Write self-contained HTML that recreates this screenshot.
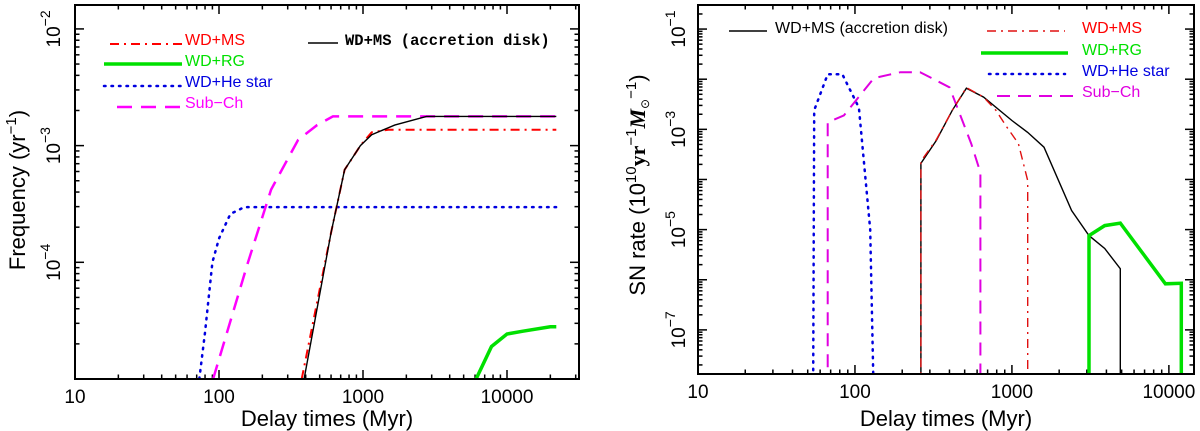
<!DOCTYPE html>
<html><head><meta charset="utf-8"><style>
html,body{margin:0;padding:0;background:#fff;width:1200px;height:431px;overflow:hidden}
svg{display:block;font-family:"Liberation Sans",sans-serif}
</style></head><body>
<svg id="c" width="1200" height="431" viewBox="0 0 1200 431" xmlns="http://www.w3.org/2000/svg"></svg>
<script>
// ---- Left panel data (Frequency yr^-1 vs Delay time Myr) ----
const leftHeT = [73, 80, 90, 100, 120, 150, 22000];
const leftHeV = [1e-5, 2.5e-5, 1e-4, 1.6e-4, 2.6e-4, 2.97e-4, 2.97e-4];
const leftSubT = [91, 159, 230, 354, 480, 618, 22000];
const leftSubV = [1e-5, 1e-4, 4.2e-4, 1.12e-3, 1.5e-3, 1.78e-3, 1.78e-3];
const leftDiskT = [390, 600, 745, 960, 1150, 1660, 2760, 22000];
const leftDiskV = [1e-5, 1.8e-4, 6.2e-4, 1e-3, 1.24e-3, 1.5e-3, 1.78e-3, 1.78e-3];
const leftMsT = [375, 600, 745, 960, 1150, 1500, 22000];
const leftMsV = [1e-5, 1.8e-4, 6.2e-4, 1e-3, 1.3e-3, 1.37e-3, 1.37e-3];
const leftRgT = [6100, 7800, 10000, 12900, 20000, 22000];
const leftRgV = [1e-5, 1.9e-5, 2.43e-5, 2.57e-5, 2.8e-5, 2.8e-5];
const leftYTicks = [-4, -3, -2];
const xTickLabels = ["10", "100", "1000", "10000"];
// ---- Right panel data (SN rate) ----
const rHeT = [54, 55, 67, 83, 106, 125, 133];
const rHeV = [1e-9, 2.4e-3, 1.26e-2, 1.26e-2, 2.7e-3, 1e-5, 1e-9];
const rSubT = [67, 67, 85, 132, 195, 260, 400, 550, 630, 630];
const rSubV = [1e-9, 1.38e-3, 1.9e-3, 1.05e-2, 1.38e-2, 1.38e-2, 6.9e-3, 5.2e-4, 1.38e-4, 1e-9];
const rDiskT = [263, 263, 330, 417, 513, 660, 1000, 1260, 1600, 2400, 3100, 3900, 4900, 4900];
const rDiskV = [1e-9, 2.1e-4, 6e-4, 2.4e-3, 6.6e-3, 4.4e-3, 1.5e-3, 8.7e-4, 4.4e-4, 2.4e-5, 7.6e-6, 4.2e-6, 1.66e-6, 1e-9];
const rMsT = [263, 263, 330, 417, 513, 660, 790, 930, 1100, 1260, 1260];
const rMsV = [1e-9, 2.3e-4, 6.2e-4, 2.4e-3, 6.8e-3, 4.4e-3, 2.4e-3, 1.1e-3, 5.2e-4, 9.5e-5, 1e-9];
const rRgT = [3100, 3100, 3900, 4900, 9500, 12000, 12000];
const rRgV = [1e-9, 7.6e-6, 1.2e-5, 1.35e-5, 8.3e-7, 8.5e-7, 1e-9];
const rightYTicks = [-7, -5, -3, -1];

const NS = "http://www.w3.org/2000/svg";
const svg = document.getElementById("c");
function el(tag, attrs, parent, text) {
  const e = document.createElementNS(NS, tag);
  for (const k in attrs) e.setAttribute(k, attrs[k]);
  if (text !== undefined) e.textContent = text;
  (parent || svg).appendChild(e);
  return e;
}
function makePanel(P) {
  const g = el("g", {});
  
  
  const sx = v => P.x0 + (Math.log10(v) - P.lx0) / (P.lx1 - P.lx0) * (P.x1 - P.x0);
  const sy = v => P.y1 - (Math.log10(v) - P.ly0) / (P.ly1 - P.ly0) * (P.y1 - P.y0);
  const cid = P.name + "-clip";
  const defs = el("defs", {}, g);
  const cp = el("clipPath", {id: cid}, defs);
  el("rect", {x: P.x0, y: P.y0, width: P.x1 - P.x0, height: P.y1 - P.y0}, cp);
  const xt = el("g", {stroke: "#000", "stroke-width": 1.5}, g);
  
  
  for (let d = 1; d <= 4; d++) for (let m = 1; m <= 9; m++) {
    const v = m * Math.pow(10, d);
    if (Math.log10(v) > P.lx1 + 1e-9) continue;
    const x = sx(v), L = m === 1 ? 9 : 4.5;
    el("line", {x1: x, x2: x, y1: P.y1, y2: P.y1 - L}, xt);
    el("line", {x1: x, x2: x, y1: P.y0, y2: P.y0 + L}, xt);
  }
  xTickLabels.forEach((s, i) => {
    const t = el("text", {x: sx(Math.pow(10, i + 1)), y: P.y1 + 24, "font-size": 19, "text-anchor": "middle"}, g, s);
    
    
  });
  const yt = el("g", {stroke: "#000", "stroke-width": 1.5}, g);
  
  
  for (let d = Math.floor(P.ly0); d <= P.ly1; d++) for (let m = 1; m <= 9; m++) {
    const lv = d + Math.log10(m);
    if (lv < P.ly0 - 1e-9 || lv > P.ly1) continue;
    const y = sy(Math.pow(10, lv)), L = m === 1 ? 9 : 4.5;
    el("line", {x1: P.x0, x2: P.x0 + L, y1: y, y2: y}, yt);
    el("line", {x1: P.x1, x2: P.x1 - L, y1: y, y2: y}, yt);
  }
  P.yTicks.forEach(e => {
    const y = sy(Math.pow(10, e));
    const t = el("text", {transform: `translate(${P.labX},${y}) rotate(-90)`, "font-size": 19, "text-anchor": "middle"}, g);
    
    
    el("tspan", {}, t, "10");
    el("tspan", {dy: -10, "font-size": 14}, t, "\u2212" + Math.abs(e));
  });
  const sg = el("g", {"clip-path": `url(#${cid})`, fill: "none"}, g);
  P.series.forEach(s => {
    const d = s.t.map((t, i) => (i ? "L" : "M") + sx(t).toFixed(1) + "," + sy(s.v[i]).toFixed(1)).join("");
    const p = el("path", {d: d, stroke: s.color, "stroke-width": s.w, "stroke-dasharray": s.dash || "none", "stroke-linecap": s.cap || "butt"}, sg);
    
    
  });
  const fr = el("rect", {x: P.x0, y: P.y0, width: P.x1 - P.x0, height: P.y1 - P.y0, fill: "none", stroke: "#000", "stroke-width": 2}, g);
  
  
  return g;
}
const red = {color: "#ff0000", w: 2, dash: "9,5,2,5"};
const green = {color: "#00e000", w: 3.5};
const blue = {color: "#0000e0", w: 2.5, dash: "1.5,6", cap: "round"};
const mag = {color: "#ff00ff", w: 2.5, dash: "15,9"};
const blk = {color: "#000", w: 1.4};
const magR = {color: "#e000e0", w: 2, dash: "13,8"};
const redR = {color: "#e01010", w: 1.4, dash: "9,5,2,5"};

makePanel({name: "left-panel", x0: 75, x1: 579, y0: 5, y1: 379, lx0: 1, lx1: 4.5, ly0: -5, ly1: -1.795, labX: 60, yTicks: leftYTicks,
  series: [
    Object.assign({name: "wd-he-star-line", t: leftHeT, v: leftHeV}, blue),
    Object.assign({name: "sub-ch-line", t: leftSubT, v: leftSubV}, mag),
    Object.assign({name: "wd-ms-line", t: leftMsT, v: leftMsV}, red),
    Object.assign({name: "wd-ms-disk-line", t: leftDiskT, v: leftDiskV}, blk),
    Object.assign({name: "wd-rg-line", t: leftRgT, v: leftRgV}, green)
  ]});
makePanel({name: "right-panel", x0: 698, x1: 1194, y0: 5, y1: 374, lx0: 1, lx1: 4.16, ly0: -7.88, ly1: -0.52, labX: 685, yTicks: rightYTicks,
  series: [
    Object.assign({name: "wd-he-star-line", t: rHeT, v: rHeV}, blue),
    Object.assign({name: "sub-ch-line", t: rSubT, v: rSubV}, magR),
    Object.assign({name: "wd-ms-disk-line", t: rDiskT, v: rDiskV}, blk),
    Object.assign({name: "wd-ms-line", t: rMsT, v: rMsV}, redR),
    Object.assign({name: "wd-rg-line", t: rRgT, v: rRgV}, green)
  ]});
</script>
<svg style="position:absolute;left:0;top:0" width="1200" height="431">
  <g font-family="Liberation Sans, sans-serif">
    <text x="327" y="426" font-size="22" text-anchor="middle">Delay times (Myr)</text>
    <text transform="translate(25,190) rotate(-90)" font-size="22" text-anchor="middle">Frequency (yr<tspan dy="-9" font-size="15">−1</tspan><tspan dy="9">)</tspan></text>
    <text x="946" y="426" font-size="22" text-anchor="middle">Delay times (Myr)</text>
    <text transform="translate(645,185) rotate(-90)" font-size="22" text-anchor="middle">SN rate (10<tspan dy="-9" font-size="15">10</tspan><tspan dy="9" font-family="Liberation Serif, serif" font-weight="bold">yr</tspan><tspan dy="-9" font-size="15">−1</tspan><tspan dy="9" font-family="Liberation Serif, serif" font-weight="bold" font-style="italic">M</tspan><tspan dy="4" font-size="12">⊙</tspan><tspan dy="-13" font-size="15">−1</tspan><tspan dy="9">)</tspan></text>
  </g>
  <g font-family="Liberation Sans, sans-serif" font-size="16">
    <line x1="110" x2="182" y1="44" y2="44" stroke="#ff0000" stroke-width="2" stroke-dasharray="9,5,2,5"/>
    <text x="185" y="45" fill="#ff0000">WD+MS</text>
    <line x1="104" x2="182" y1="64" y2="64" stroke="#00e000" stroke-width="3.5"/>
    <text x="185" y="66" fill="#00e000">WD+RG</text>
    <line x1="104" x2="182" y1="86" y2="86" stroke="#0000e0" stroke-width="2.5" stroke-dasharray="1.5,6" stroke-linecap="round"/>
    <text x="185" y="87" fill="#0000e0">WD+He star</text>
    <line x1="117" x2="182" y1="107" y2="107" stroke="#ff00ff" stroke-width="2.5" stroke-dasharray="15,9"/>
    <text x="185" y="108" fill="#ff00ff">Sub−Ch</text>
    <line x1="308" x2="338" y1="43" y2="43" stroke="#000" stroke-width="1.4"/>
    <text x="345" y="45" font-family="Liberation Mono, monospace" font-weight="bold" font-size="15.5">WD+MS (accretion disk)</text>
  </g>
  <g font-family="Liberation Sans, sans-serif" font-size="16">
    <line x1="729" x2="767" y1="31" y2="31" stroke="#000" stroke-width="1.4"/>
    <text x="775" y="33">WD+MS (accretion disk)</text>
    <line x1="987" x2="1065" y1="31" y2="31" stroke="#e01010" stroke-width="1.4" stroke-dasharray="9,5,2,5"/>
    <text x="1082" y="33" fill="#ff0000">WD+MS</text>
    <line x1="981" x2="1068" y1="53" y2="53" stroke="#00e000" stroke-width="3.5"/>
    <text x="1082" y="55" fill="#00e000">WD+RG</text>
    <line x1="989" x2="1065" y1="74" y2="74" stroke="#0000e0" stroke-width="2.5" stroke-dasharray="1.5,6" stroke-linecap="round"/>
    <text x="1082" y="76" fill="#0000e0">WD+He star</text>
    <line x1="997" x2="1073" y1="96" y2="96" stroke="#e000e0" stroke-width="2" stroke-dasharray="13,8"/>
    <text x="1082" y="97" fill="#e000e0">Sub−Ch</text>
  </g>
</svg>
</body></html>
